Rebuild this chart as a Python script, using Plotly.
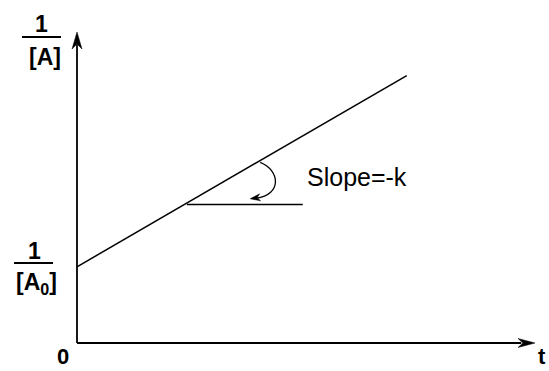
import plotly.graph_objects as go

# ---- data (arbitrary units) ----
t_line = [0.0, 7.2]          # time
invA_line = [2.45, 8.6]      # 1/[A]
t_ref = [2.4, 4.93]          # horizontal reference segment for slope
invA_ref = [4.45, 4.45]
arc_anchor_t = 4.0           # where the slope arc starts on the line
arc_anchor_y = 5.87
axis_t_max = 10.0
axis_y_max = 10.0

W, H = 549, 371
ML, MR, MT, MB = 57, 4, 12, 16
PW, PH = W - ML - MR, H - MT - MB

def px(x):   # pixel x -> paper
    return (x - ML) / PW

def py(y):   # pixel y -> paper
    return (H - MB - y) / PH

FONT = "Liberation Sans, Arial, sans-serif"

fig = go.Figure()
fig.add_trace(go.Scatter(x=t_line, y=invA_line, mode="lines",
                         line=dict(color="black", width=1.5),
                         hoverinfo="skip", showlegend=False))
fig.add_trace(go.Scatter(x=t_ref, y=invA_ref, mode="lines",
                         line=dict(color="black", width=1.5),
                         hoverinfo="skip", showlegend=False))

shapes = [
    # axes
    dict(type="line", xref="x", yref="y", x0=0, y0=0, x1=0, y1=axis_y_max * 0.96,
         line=dict(color="black", width=1.8)),
    dict(type="line", xref="x", yref="y", x0=0, y0=0, x1=axis_t_max * 0.97, y1=0,
         line=dict(color="black", width=1.8)),
    # arrowheads
    dict(type="path", xref="x", yref="y", xsizemode="pixel", ysizemode="pixel",
         xanchor=0, yanchor=axis_y_max,
         path="M0,0 L-5,-17 L0,-12 L5,-17 Z",
         fillcolor="black", line=dict(color="black", width=0.5)),
    dict(type="path", xref="x", yref="y", xsizemode="pixel", ysizemode="pixel",
         xanchor=axis_t_max, yanchor=0,
         path="M0,0 L-17,4.5 L-12,0 L-17,-4.5 Z",
         fillcolor="black", line=dict(color="black", width=0.5)),
    # slope arc
    dict(type="path", xref="x", yref="y", xsizemode="pixel", ysizemode="pixel",
         xanchor=arc_anchor_t, yanchor=arc_anchor_y,
         path="M0,-2 C20,-10 22,-34 -4,-37.8",
         line=dict(color="black", width=1.3)),
    dict(type="path", xref="x", yref="y", xsizemode="pixel", ysizemode="pixel",
         xanchor=arc_anchor_t, yanchor=arc_anchor_y,
         path="M-10,-38.3 L0.4,-40.4 L-3.1,-37.3 L-0.6,-33.4 Z",
         fillcolor="black", line=dict(color="black", width=0.5)),
    # fraction bars
    dict(type="line", xref="paper", yref="paper", x0=px(22), x1=px(61), y0=py(37), y1=py(37),
         line=dict(color="black", width=2)),
    dict(type="line", xref="paper", yref="paper", x0=px(14), x1=px(53), y0=py(263), y1=py(263),
         line=dict(color="black", width=2)),
]

bold = dict(family=FONT, size=23, color="black")
bold_small = dict(family=FONT, size=22, color="black")
ann = [
    dict(text="<b>1</b>", x=px(41), y=py(24), xref="paper", yref="paper", showarrow=False,
         font=bold, xanchor="center", yanchor="middle"),
    dict(text="<b>[A]</b>", x=px(45), y=py(57), xref="paper", yref="paper", showarrow=False,
         font=bold, xanchor="center", yanchor="middle"),
    dict(text="<b>1</b>", x=px(34), y=py(251), xref="paper", yref="paper", showarrow=False,
         font=bold, xanchor="center", yanchor="middle"),
    dict(text="<b>[A<sub>0</sub>]</b>", x=px(36), y=py(283), xref="paper", yref="paper", showarrow=False,
         font=bold, xanchor="center", yanchor="middle"),
    dict(text="<b>0</b>", x=px(63), y=py(370.5), xref="paper", yref="paper", showarrow=False,
         font=bold_small, xanchor="center", yanchor="bottom"),
    dict(text="<b>t</b>", x=px(542), y=py(370.5), xref="paper", yref="paper", showarrow=False,
         font=bold_small, xanchor="center", yanchor="bottom"),
    dict(text="Slope=-k", x=px(305), y=py(177), xref="paper", yref="paper", showarrow=False,
         font=dict(family=FONT, size=25, color="black"), xanchor="left", yanchor="middle"),
]

x_lo = -(77 - ML) / 45.8
x_hi = (W - MR - 77) / 45.8
y_lo = -(H - MB - 343) / 31.1
y_hi = (343 - MT) / 31.1

fig.update_layout(
    width=W, height=H,
    margin=dict(l=ML, r=MR, t=MT, b=MB, pad=0),
    paper_bgcolor="white", plot_bgcolor="white",
    xaxis=dict(range=[x_lo, x_hi], visible=False, fixedrange=True),
    yaxis=dict(range=[y_lo, y_hi], visible=False, fixedrange=True),
    shapes=shapes, annotations=ann, showlegend=False,
)

fig.write_html("out.html", config={"displayModeBar": False},
               post_script="document.body.style.margin='0';document.body.style.overflow='hidden';")
